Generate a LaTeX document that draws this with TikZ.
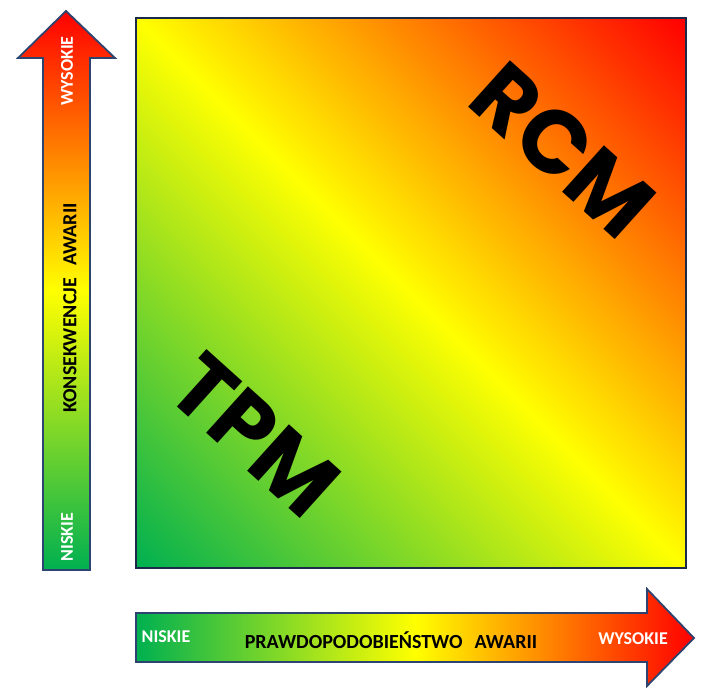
\documentclass[tikz,border=0pt]{standalone}
\usepackage{fontspec}
\setmainfont{Carlito}
\newfontfamily\bigfont{Poppins}
\definecolor{grn}{HTML}{00B050}
\definecolor{ylw}{HTML}{FFFF00}
\definecolor{rd}{HTML}{FF0000}
\definecolor{arrowline}{HTML}{2E4470}
\definecolor{boxline}{HTML}{1B2A4A}
\pgfdeclareverticalshading{diagshade}{100bp}{color(0bp)=(grn); color(14.6bp)=(grn); color(50bp)=(ylw); color(85.4bp)=(rd); color(100bp)=(rd)}
\tikzset{
  arrowshape/.style={draw=arrowline, line width=1.8pt, line join=miter},
  lbl/.style={font=\bfseries\fontsize{18}{18}\selectfont, text=white, inner sep=0pt},
  axislbl/.style={font=\bfseries\fontsize{20}{20}\selectfont, text=black, inner sep=0pt},
  biglbl/.style={font=\bigfont\bfseries\fontsize{89}{89}\selectfont, text=black, inner sep=0pt, rotate=-42}
}
\begin{document}
\begin{tikzpicture}[x=1pt,y=-1pt]
\useasboundingbox (0,0) rectangle (714,697);
% matrix square
\path[draw=boxline, line width=2.2pt, shading=diagshade, shading angle=-45]
  (136,18) rectangle (686,568);
% vertical arrow
\path[arrowshape, bottom color=grn, top color=rd, middle color=ylw]
  (43,570) -- (43,58) -- (18,58) -- (66,11) -- (115,58) -- (90,58) -- (90,570) -- cycle;
% horizontal arrow
\path[arrowshape, left color=grn, right color=rd, middle color=ylw]
  (136,613) -- (647,613) -- (647,589) -- (694,638) -- (647,686) -- (647,662) -- (136,662) -- cycle;
% labels
\node[lbl, rotate=90] (vhigh) at (67,71) {WYSOKIE};
\node[lbl, rotate=90] (vlow) at (67,537) {NISKIE};
\node[axislbl, rotate=90] (vname) at (70,308) {KONSEKWENCJE\hspace{12pt}AWARII};
\node[lbl] (hlow) at (166,637) {NISKIE};
\node[axislbl] (hname) at (391,640) {PRAWDOPODOBIEŃSTWO\hspace{12pt}AWARII};
\node[lbl] (hhigh) at (633,639) {WYSOKIE};
\node[biglbl] (rcm) at (563,150) {RCM};
\node[biglbl] (tpm) at (255,435) {TPM};
\end{tikzpicture}
\end{document}
